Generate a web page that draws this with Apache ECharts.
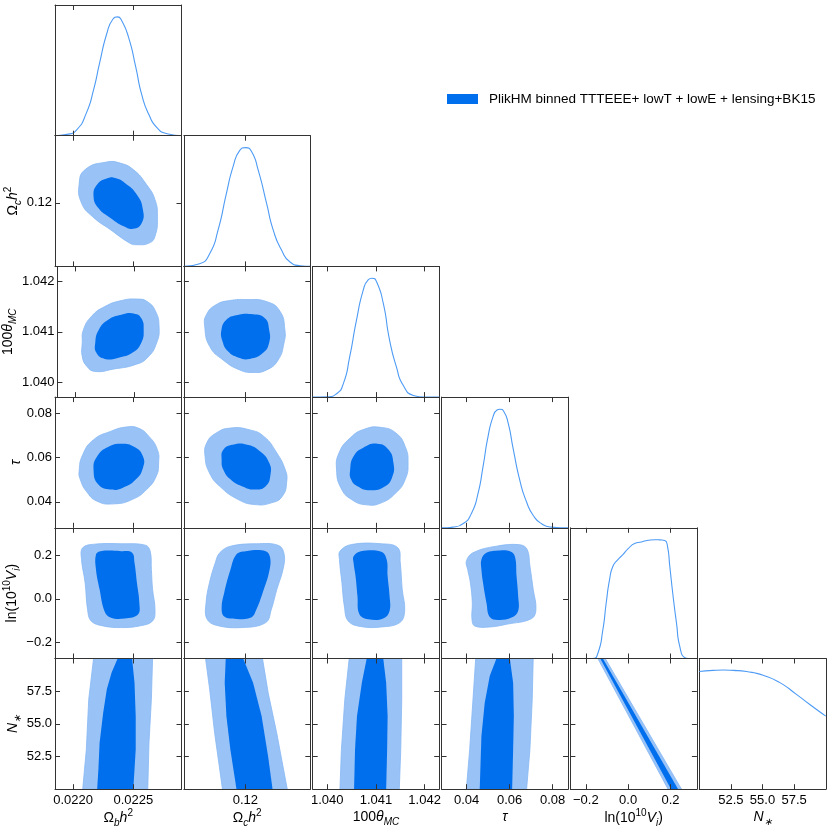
<!DOCTYPE html>
<html lang="en">
<head>
    <meta charset="UTF-8">
    <title>Triangle plot</title>
    <style>
        * { margin: 0; padding: 0; }
        body { background: #fff; }
        .mychart { width: 831px; height: 831px; }
    </style>
</head>
<body>
    <div class="mychart"></div>
</body>
<script src="https://cdn.jsdelivr.net/npm/echarts@6.0.0/dist/echarts.min.js"></script>
<script>
    // parameter axes
    const paramNames = ['{m|Ω}{sub|b}{i|h}{sup|2}', '{m|Ω}{sub|c}{i|h}{sup|2}', '{m|100}{i|θ}{sub|MC}',
        '{i|τ}', '{m|ln(10}{sup|10}{i|V}{sub|i}{m|)}', '{i|N}{sub|∗}'];
    const paramMin = [0.02185, 0.1164, 1.0397, 0.0283, -0.273, 50];
    const paramMax = [0.0229, 0.1238, 1.0423, 0.0872, 0.325, 60];
    const paramTicks = [[0.0220, 0.0225], [0.12], [1.040, 1.041, 1.042], [0.04, 0.06, 0.08], [-0.2, 0.0, 0.2], [52.5, 55.0, 57.5]];
    const tickDecimals = [4, 2, 3, 2, 1, 1];
    const legendName = 'PlikHM binned TTTEEE+ lowT + lowE + lensing+BK15';

    // 1D marginals (normalised to peak 1)
    const obh2_x = [0.02185, 0.02195, 0.02203, 0.02211, 0.02217, 0.02222, 0.02228, 0.02233, 0.02237, 0.02240, 0.02246, 0.02252, 0.02257, 0.02263, 0.02270, 0.02278, 0.0229];
    const obh2_p = [0, 0.011, 0.05, 0.19, 0.386, 0.61, 0.86, 0.98, 1.0, 0.975, 0.83, 0.58, 0.345, 0.176, 0.064, 0.017, 0];
    const och2_x = [0.11644, 0.11732, 0.11791, 0.11840, 0.11889, 0.11928, 0.11967, 0.12001, 0.12036, 0.12075, 0.12124, 0.12163, 0.12212, 0.12261, 0.12320, 0.12378];
    const och2_p = [0, 0.023, 0.107, 0.305, 0.615, 0.84, 0.976, 1.0, 0.967, 0.81, 0.53, 0.305, 0.135, 0.037, 0.006, 0];
    const theta_x = [1.0397, 1.04002, 1.04019, 1.04033, 1.04046, 1.04060, 1.04074, 1.04084, 1.04092, 1.04101, 1.04115, 1.04128, 1.04142, 1.04156, 1.04177, 1.04198, 1.0423];
    const theta_p = [0, 0.003, 0.028, 0.113, 0.338, 0.648, 0.902, 0.987, 1.0, 0.973, 0.79, 0.48, 0.254, 0.099, 0.014, 0, 0];
    const tau_x = [0.0283, 0.02891, 0.03358, 0.03826, 0.04215, 0.04527, 0.04760, 0.04994, 0.05228, 0.05415, 0.05542, 0.05729, 0.05932, 0.06166, 0.06477, 0.06789, 0.07100, 0.07490, 0.07957, 0.08658, 0.0872];
    const tau_p = [0, 0, 0.006, 0.034, 0.118, 0.288, 0.513, 0.767, 0.936, 0.992, 0.998, 0.979, 0.88, 0.665, 0.397, 0.217, 0.104, 0.034, 0.006, 0, 0];
    const lnv_x = [-0.273, -0.1672, -0.1435, -0.1197, -0.1039, -0.0879, -0.0720, -0.0485, -0.0248, -0.0011, 0.0307, 0.0625, 0.0941, 0.1257, 0.1494, 0.1731, 0.1859, 0.1968, 0.2126, 0.2287, 0.2443, 0.2681, 0.2838, 0.325];
    const lnv_p = [0, 0, 0.042, 0.240, 0.465, 0.663, 0.776, 0.832, 0.874, 0.922, 0.967, 0.981, 0.995, 1.0, 0.998, 0.993, 0.945, 0.776, 0.522, 0.296, 0.099, 0.006, 0, 0];
    const nstar_x = [50, 51.1, 51.9, 52.7, 53.74, 55.05, 56.37, 57.68, 58.74, 60];
    const nstar_p = [0.990, 1.0, 1.003, 1.0, 0.990, 0.959, 0.897, 0.798, 0.713, 0.615];

    // 2D contours, [x, y] outlines (95% and 68%)
    const obh2_och2_95 = [[0.02228, 0.12231], [0.02210, 0.12188], [0.02205, 0.12103], [0.02207, 0.11999], [0.02216, 0.11923], [0.02231, 0.11848], [0.02247, 0.11772], [0.02252, 0.11763], [0.02263, 0.11772], [0.02268, 0.11810], [0.02270, 0.11923], [0.02268, 0.12018], [0.02261, 0.12103], [0.02250, 0.12188], [0.02239, 0.12225]];
    const obh2_och2_68 = [[0.02229, 0.12140], [0.02220, 0.12103], [0.02217, 0.12037], [0.02221, 0.11970], [0.02231, 0.11914], [0.02242, 0.11867], [0.02250, 0.11853], [0.02257, 0.11886], [0.02258, 0.11961], [0.02253, 0.12046], [0.02243, 0.12112], [0.02235, 0.12140]];
    const obh2_theta_95 = [[0.02206, 1.04078], [0.02207, 1.04104], [0.02214, 1.04131], [0.02225, 1.04150], [0.02239, 1.04162], [0.02253, 1.04165], [0.02261, 1.04160], [0.02268, 1.04141], [0.02271, 1.04111], [0.02269, 1.04078], [0.02261, 1.04048], [0.02250, 1.04034], [0.02233, 1.04026], [0.02217, 1.04021], [0.02210, 1.04031], [0.02206, 1.04051]];
    const obh2_theta_68 = [[0.02217, 1.04078], [0.02220, 1.04104], [0.02228, 1.04124], [0.02239, 1.04134], [0.02250, 1.04136], [0.02256, 1.04127], [0.02258, 1.04104], [0.02256, 1.04078], [0.02249, 1.04059], [0.02236, 1.04048], [0.02225, 1.04046], [0.02218, 1.04058]];
    const och2_theta_95 = [[0.11762, 1.04111], [0.11772, 1.04134], [0.11830, 1.04154], [0.11908, 1.04162], [0.12007, 1.04164], [0.12124, 1.04160], [0.12202, 1.04141], [0.12231, 1.04104], [0.12226, 1.04078], [0.12192, 1.04044], [0.12124, 1.04024], [0.12045, 1.04019], [0.11967, 1.04024], [0.11869, 1.04044], [0.11791, 1.04071]];
    const och2_theta_68 = [[0.11860, 1.04104], [0.11889, 1.04124], [0.11948, 1.04133], [0.12045, 1.04135], [0.12114, 1.04127], [0.12139, 1.04104], [0.12139, 1.04078], [0.12104, 1.04058], [0.12026, 1.04046], [0.11957, 1.04049], [0.11898, 1.04061], [0.11866, 1.04081]];
    const obh2_tau_95 = [[0.02205, 0.05375], [0.02208, 0.06126], [0.02217, 0.06800], [0.02231, 0.07173], [0.02244, 0.07371], [0.02254, 0.07326], [0.02263, 0.06949], [0.02270, 0.06351], [0.02271, 0.05753], [0.02269, 0.05150], [0.02261, 0.04552], [0.02249, 0.04103], [0.02234, 0.03909], [0.02220, 0.04026], [0.02211, 0.04476], [0.02206, 0.05002]];
    const obh2_tau_68 = [[0.02217, 0.05451], [0.02220, 0.06049], [0.02229, 0.06472], [0.02240, 0.06620], [0.02251, 0.06472], [0.02258, 0.06049], [0.02258, 0.05528], [0.02252, 0.05002], [0.02241, 0.04629], [0.02231, 0.04552], [0.02221, 0.04777]];
    const och2_tau_95 = [[0.11764, 0.06049], [0.11774, 0.06652], [0.11829, 0.07101], [0.11914, 0.07326], [0.12022, 0.07250], [0.12108, 0.06949], [0.12184, 0.06202], [0.12233, 0.05451], [0.12242, 0.04927], [0.12216, 0.04251], [0.12152, 0.03954], [0.12055, 0.03878], [0.11958, 0.04103], [0.11850, 0.04701], [0.11790, 0.05303]];
    const och2_tau_68 = [[0.11861, 0.05901], [0.11871, 0.06351], [0.11925, 0.06575], [0.12011, 0.06575], [0.12087, 0.06274], [0.12140, 0.05753], [0.12147, 0.05227], [0.12119, 0.04701], [0.12055, 0.04552], [0.11979, 0.04701], [0.11914, 0.05002], [0.11871, 0.05451]];
    const theta_tau_95 = [[1.04019, 0.05451], [1.04024, 0.06202], [1.04047, 0.06877], [1.04077, 0.07281], [1.04111, 0.07353], [1.04141, 0.07101], [1.04160, 0.06499], [1.04166, 0.05753], [1.04160, 0.05002], [1.04141, 0.04404], [1.04111, 0.03954], [1.04081, 0.03864], [1.04050, 0.04103], [1.04028, 0.04629]];
    const theta_tau_68 = [[1.04047, 0.05451], [1.04054, 0.06049], [1.04073, 0.06427], [1.04103, 0.06620], [1.04126, 0.06351], [1.04136, 0.05753], [1.04134, 0.05150], [1.04119, 0.04701], [1.04088, 0.04521], [1.04062, 0.04701], [1.04049, 0.05002]];
    const obh2_lnv_95 = [[0.02208, 0.2337], [0.02218, 0.2501], [0.02240, 0.2520], [0.02260, 0.2456], [0.02264, 0.2182], [0.02265, 0.1346], [0.02266, 0.0433], [0.02268, -0.0480], [0.02266, -0.1014], [0.02255, -0.1242], [0.02240, -0.1315], [0.02225, -0.1242], [0.02215, -0.1014], [0.02212, -0.0480], [0.02210, 0.0739], [0.02207, 0.1803]];
    const obh2_lnv_68 = [[0.02219, 0.2031], [0.02223, 0.2182], [0.02240, 0.2182], [0.02249, 0.2109], [0.02251, 0.1652], [0.02253, 0.0739], [0.02255, -0.0174], [0.02254, -0.0708], [0.02243, -0.0904], [0.02231, -0.0859], [0.02226, -0.0557], [0.02222, 0.0433], [0.02219, 0.1346]];
    const och2_lnv_95 = [[0.11850, 0.2109], [0.11914, 0.2410], [0.12065, 0.2520], [0.12194, 0.2442], [0.12227, 0.2031], [0.12220, 0.1346], [0.12184, 0.0433], [0.12152, -0.0480], [0.12119, -0.1087], [0.11979, -0.1315], [0.11829, -0.1210], [0.11774, -0.0904], [0.11770, -0.0174], [0.11790, 0.0739], [0.11824, 0.1652]];
    const och2_lnv_68 = [[0.11947, 0.2031], [0.12001, 0.2182], [0.12119, 0.2182], [0.12145, 0.1880], [0.12140, 0.1269], [0.12108, 0.0433], [0.12065, -0.0480], [0.12033, -0.0859], [0.11947, -0.0922], [0.11876, -0.0813], [0.11861, -0.0402], [0.11876, 0.0283], [0.11910, 0.1269]];
    const theta_lnv_95 = [[1.04026, 0.2182], [1.04050, 0.2488], [1.04111, 0.2520], [1.04145, 0.2337], [1.04150, 0.1652], [1.04154, 0.0433], [1.04159, -0.0557], [1.04149, -0.1087], [1.04111, -0.1288], [1.04069, -0.1269], [1.04043, -0.1014], [1.04035, -0.0329], [1.04030, 0.0739], [1.04025, 0.1803]];
    const theta_lnv_68 = [[1.04054, 0.1954], [1.04069, 0.2182], [1.04111, 0.2154], [1.04122, 0.1803], [1.04124, 0.1041], [1.04128, 0.0128], [1.04128, -0.0557], [1.04115, -0.0904], [1.04084, -0.0936], [1.04066, -0.0708], [1.04062, 0.0128], [1.04058, 0.1041], [1.04054, 0.1652]];
    const tau_lnv_95 = [[0.03985, 0.1725], [0.04293, 0.2109], [0.05387, 0.2410], [0.06477, 0.2474], [0.06818, 0.2259], [0.06944, 0.1497], [0.07098, 0.0433], [0.07225, -0.0480], [0.07023, -0.0904], [0.05855, -0.1164], [0.05074, -0.1288], [0.04373, -0.1242], [0.04247, -0.0936], [0.04262, -0.0174], [0.04172, 0.0739], [0.04046, 0.1346]];
    const tau_lnv_68 = [[0.04686, 0.1803], [0.04920, 0.2109], [0.05542, 0.2214], [0.06009, 0.2182], [0.06243, 0.1954], [0.06322, 0.1041], [0.06397, 0.0128], [0.06397, -0.0557], [0.06088, -0.0859], [0.05462, -0.0968], [0.05074, -0.0831], [0.04920, -0.0174], [0.04761, 0.0739], [0.04686, 0.1346]];
    const obh2_nstar_95 = [[0.02217, 60], [0.02213, 56.87], [0.02211, 53.03], [0.02208, 50], [0.02262, 50], [0.02263, 53.54], [0.02265, 56.87], [0.02266, 60]];
    const obh2_nstar_68 = [[0.02237, 60], [0.02232, 58.92], [0.02228, 57.64], [0.02225, 55.85], [0.02222, 53.54], [0.02221, 51.49], [0.02220, 50], [0.02250, 50], [0.02252, 53.03], [0.02252, 55.59], [0.02251, 58.15], [0.02249, 60]];
    const och2_nstar_95 = [[0.11767, 60], [0.11791, 57.64], [0.11820, 54.31], [0.11866, 50], [0.12245, 50], [0.12183, 54.31], [0.12133, 57.39], [0.12100, 60]];
    const och2_nstar_68 = [[0.11885, 60], [0.11879, 58.15], [0.11889, 55.59], [0.11912, 53.03], [0.11948, 50], [0.12159, 50], [0.12133, 52.51], [0.12095, 55.59], [0.12045, 58.15], [0.11987, 60]];
    const theta_nstar_95 = [[1.04045, 60], [1.04036, 56.87], [1.04029, 53.03], [1.04026, 50], [1.04148, 50], [1.04151, 53.03], [1.04153, 56.87], [1.04153, 60]];
    const theta_nstar_68 = [[1.04081, 60], [1.04071, 58.15], [1.04061, 55.59], [1.04057, 53.03], [1.04055, 50], [1.04121, 50], [1.04123, 53.03], [1.04124, 55.59], [1.04121, 58.15], [1.04115, 60]];
    const tau_nstar_95 = [[0.04420, 60], [0.04293, 56.87], [0.04139, 53.03], [0.03985, 50], [0.06790, 50], [0.06944, 53.03], [0.07052, 56.87], [0.07098, 60]];
    const tau_nstar_68 = [[0.05387, 60], [0.05074, 58.66], [0.04840, 56.62], [0.04686, 54.05], [0.04607, 50], [0.06117, 50], [0.06163, 53.03], [0.06196, 55.59], [0.06163, 58.15], [0.06009, 60]];
    const lnv_nstar_95 = [[-0.1434, 60], [0.1888, 50], [0.2524, 50], [-0.1083, 60]];
    const lnv_nstar_68 = [[-0.1320, 60], [0.2030, 50], [0.2363, 50], [-0.1197, 60]];

    const marginals = [[obh2_x, obh2_p], [och2_x, och2_p], [theta_x, theta_p], [tau_x, tau_p], [lnv_x, lnv_p], [nstar_x, nstar_p]];
    // [row, col, 95%, 68%, smoothing]
    const contours = [
        [1, 0, obh2_och2_95, obh2_och2_68, 0.5],
        [2, 0, obh2_theta_95, obh2_theta_68, 0.5],
        [2, 1, och2_theta_95, och2_theta_68, 0.5],
        [3, 0, obh2_tau_95, obh2_tau_68, 0.5],
        [3, 1, och2_tau_95, och2_tau_68, 0.5],
        [3, 2, theta_tau_95, theta_tau_68, 0.5],
        [4, 0, obh2_lnv_95, obh2_lnv_68, 0.4],
        [4, 1, och2_lnv_95, och2_lnv_68, 0.4],
        [4, 2, theta_lnv_95, theta_lnv_68, 0.4],
        [4, 3, tau_lnv_95, tau_lnv_68, 0.4],
        [5, 0, obh2_nstar_95, obh2_nstar_68, 0],
        [5, 1, och2_nstar_95, och2_nstar_68, 0],
        [5, 2, theta_nstar_95, theta_nstar_68, 0],
        [5, 3, tau_nstar_95, tau_nstar_68, 0],
        [5, 4, lnv_nstar_95, lnv_nstar_68, 0]
    ];
    // y name distance for the left column
    const yNameGap = [0, 29, 36, 25, 32, 28];

    const FONT = 'Liberation Sans';
    const DARK = '#006FED';
    const LIGHT = '#99C3F7';
    const LINE = '#4D9BF5';
    const FRAME = '#333';
    const rich = {
        m: { fontSize: 14, fontFamily: FONT, lineHeight: 20, color: '#000' },
        i: { fontSize: 14, fontFamily: FONT, fontStyle: 'italic', lineHeight: 20, color: '#000' },
        sub: { fontSize: 10, fontFamily: FONT, fontStyle: 'italic', lineHeight: 11, verticalAlign: 'bottom', color: '#000' },
        sup: { fontSize: 10, fontFamily: FONT, lineHeight: 11, verticalAlign: 'top', color: '#000' }
    };

    const COL_STEP = 128.85, COL_W = 126.5, ROW_H = 130.7;
    const grid = [], xAxis = [], yAxis = [], series = [];
    const panelIndex = {};

    const fmt = p => v => v.toFixed(tickDecimals[p]).replace('-', '−');

    // each panel edge is an axis: the line is the frame, ticks point inwards
    function valueAxis(p, k, position, showLabel, name, extra) {
        return Object.assign({
            type: 'value', gridIndex: k, position: position,
            min: paramMin[p], max: paramMax[p],
            axisLine: { show: true, onZero: false, lineStyle: { color: FRAME, width: 1 } },
            splitLine: { show: false },
            axisTick: {
                show: true, inside: true, length: 5, customValues: paramTicks[p],
                lineStyle: { color: FRAME, width: 1 }
            },
            axisLabel: {
                show: showLabel, customValues: paramTicks[p], formatter: fmt(p),
                margin: 5, fontSize: 13, fontFamily: FONT, color: '#000'
            },
            name: name || '', nameLocation: 'middle', nameTextStyle: { rich: rich },
            z: 5
        }, extra || {});
    }

    function frameAxis(k, position) {
        return {
            type: 'value', gridIndex: k, position: position, min: 0, max: 1.1,
            axisLine: { show: true, onZero: false, lineStyle: { color: FRAME, width: 1 } },
            axisTick: { show: false }, axisLabel: { show: false }, splitLine: { show: false }
        };
    }

    for (let r = 0; r < 6; r++) {
        for (let c = 0; c <= r; c++) {
            const k = grid.length;
            panelIndex[r + '_' + c] = k;
            grid.push({ left: 55 + c * COL_STEP, top: 5 + r * ROW_H, width: COL_W, height: ROW_H });
            const bottomRow = r === 5;
            xAxis.push(valueAxis(c, k, 'bottom', bottomRow, bottomRow ? paramNames[c] : '', { nameGap: 18 }));
            xAxis.push(valueAxis(c, k, 'top', false, ''));
            if (r === c) {
                yAxis.push(frameAxis(k, 'left'));
                yAxis.push(frameAxis(k, 'right'));
            } else {
                yAxis.push(valueAxis(r, k, 'left', c === 0, c === 0 ? paramNames[r] : '',
                    { nameRotate: 90, nameGap: yNameGap[r], axisLabel: {
                        show: c === 0, customValues: paramTicks[r], formatter: fmt(r),
                        margin: 3, fontSize: 13, fontFamily: FONT, color: '#000' } }));
                yAxis.push(valueAxis(r, k, 'right', false, ''));
            }
        }
    }

    // 1D marginal curves on the diagonal
    marginals.forEach(([xs, ps], p) => {
        const k = panelIndex[p + '_' + p];
        series.push({
            type: 'line', name: legendName, xAxisIndex: 2 * k, yAxisIndex: 2 * k,
            data: xs.map((x, i) => [x, ps[i]]),
            smooth: 0.6, showSymbol: false, silent: true,
            lineStyle: { color: LINE, width: 1.1 }
        });
    });

    function contourSeries(k, pts, fill, stroke, smooth) {
        return {
            type: 'custom', name: legendName, xAxisIndex: 2 * k, yAxisIndex: 2 * k,
            data: pts, silent: true,
            renderItem: function (params, api) {
                if (params.dataIndex !== 0) return;
                const cs = params.coordSys;
                return {
                    type: 'polygon',
                    shape: { points: pts.map(pt => api.coord(pt)), smooth: smooth },
                    style: { fill: fill, stroke: stroke, lineWidth: stroke ? 0.8 : 0 },
                    clipPath: { type: 'rect', shape: { x: cs.x, y: cs.y, width: cs.width, height: cs.height } }
                };
            }
        };
    }

    contours.forEach(([r, c, outer, inner, smooth]) => {
        const k = panelIndex[r + '_' + c];
        series.push(contourSeries(k, outer, LIGHT, '#86B8F4', smooth));
        series.push(contourSeries(k, inner, DARK, null, smooth));
    });

    const myChart = echarts.init(document.querySelector('.mychart'));
    myChart.setOption({
        animation: false,
        legend: {
            left: 447, top: 92, padding: 0, itemWidth: 31, itemHeight: 10,
            data: [{ name: legendName, icon: 'rect', itemStyle: { color: DARK } }],
            textStyle: { fontSize: 13.5, fontFamily: FONT, color: '#000', padding: [0, 0, 0, 6] },
            selectedMode: false
        },
        grid: grid,
        xAxis: xAxis,
        yAxis: yAxis,
        series: series
    });
</script>
</html>
